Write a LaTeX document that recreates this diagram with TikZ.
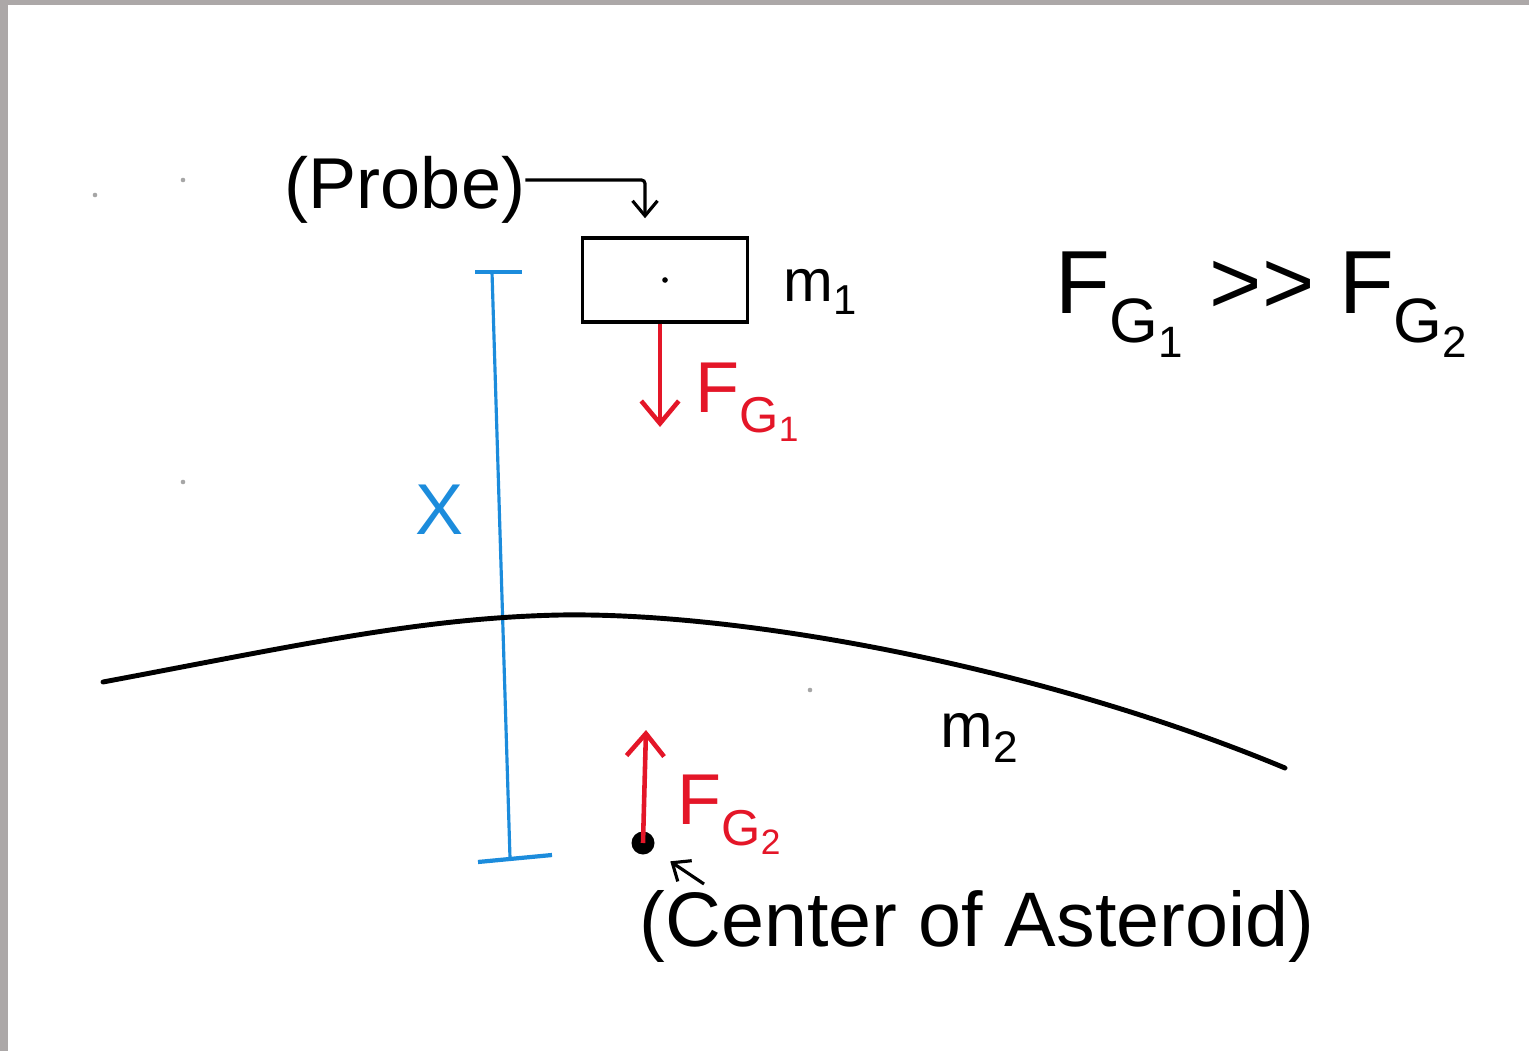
\documentclass[tikz,border=0pt]{standalone}
\usepackage{fontspec}
\setmainfont{Liberation Sans}
\setsansfont{Liberation Sans}
\usetikzlibrary{positioning,arrows.meta}

\begin{document}
\begin{tikzpicture}[x=0.02cm, y=-0.02cm,
    hand/.style={font=\fontsize{41}{45}\selectfont, inner sep=0pt},
    pointer/.style={->, >={Straight Barb[length=0.3cm,width=0.5cm]}, line width=1.8pt},
    force/.style={->, >={Straight Barb[length=0.45cm,width=0.75cm]}, pullred, line width=2.6pt},
    gap/.style={gapblue, line width=1.8pt}]
    \definecolor{pullred}{RGB}{228,22,40}
    \definecolor{gapblue}{RGB}{28,140,220}
    \definecolor{scanframe}{RGB}{172,168,168}

    \useasboundingbox (0,0) rectangle (1529,1051);
    \fill[scanframe] (0,0) rectangle (1529,1051);
    \fill[white] (8,5) rectangle (1529,1051);
    \foreach \px/\py in {95/195, 183/180, 183/482, 810/690}
        \fill[gray!70] (\px,\py) circle (1.3pt);

    % probe and its mass
    \node[hand] (probe) at (405,190) {(Probe)};
    \node[draw, line width=2pt, minimum width=3.3cm, minimum height=1.68cm] (box) at (665,280) {};
    \fill (box.center) circle (1.6pt);
    \draw[pointer, shorten >=0.36cm, rounded corners=2pt] ([yshift=0.2cm]probe.east) -| ([xshift=-0.4cm]box.north);
    \node[hand, anchor=west, font=\fontsize{34}{38}\selectfont] (mone) at (783,292) {m\textsubscript{1}};
    \node[hand, font=\fontsize{51}{56}\selectfont] (relation) at (1262,305)
        {F\textsubscript{G\textsubscript{1}} >{}> F\textsubscript{G\textsubscript{2}}};

    % distance x
    \coordinate (xtop) at (492,272);
    \coordinate (xbot) at (510,858);
    \draw[gap] (xtop) -- (xbot);
    \draw[gap, line width=2.4pt] (475,272) -- (522,272);
    \draw[gap, line width=2.4pt] (478,862) -- (552,855);
    \node[hand, gapblue] (xlab) at (440,510) {X};

    % forces
    \coordinate (fgonetip) at (660,427);
    \draw[force] (box.south -| fgonetip) -- (fgonetip);
    \node[hand, pullred] (fgone) at (748,402) {F\textsubscript{G\textsubscript{1}}};

    % asteroid
    \draw[line width=2.8pt, line cap=round] (103,682) .. controls (300,645) and (420,618) .. (560,615)
        .. controls (750,612) and (1050,670) .. (1285,768);
    \node[hand, font=\fontsize{36}{40}\selectfont] (mtwo) at (980,738) {m\textsubscript{2}};
    \node[circle, fill, inner sep=0pt, minimum size=0.46cm] (core) at (643,843) {};
    \coordinate (fgtwotip) at (646,730);
    \draw[force] (core.center) -- (fgtwotip);
    \node[hand, pullred] (fgtwo) at (730,815) {F\textsubscript{G\textsubscript{2}}};
    \node[hand, font=\fontsize{44}{48}\selectfont] (centre) at (977,926) {(Center of Asteroid)};
    \coordinate (pin) at (704,884);
    \draw[pointer, shorten >=0.42cm] (pin) -- (core);
\end{tikzpicture}
\end{document}
